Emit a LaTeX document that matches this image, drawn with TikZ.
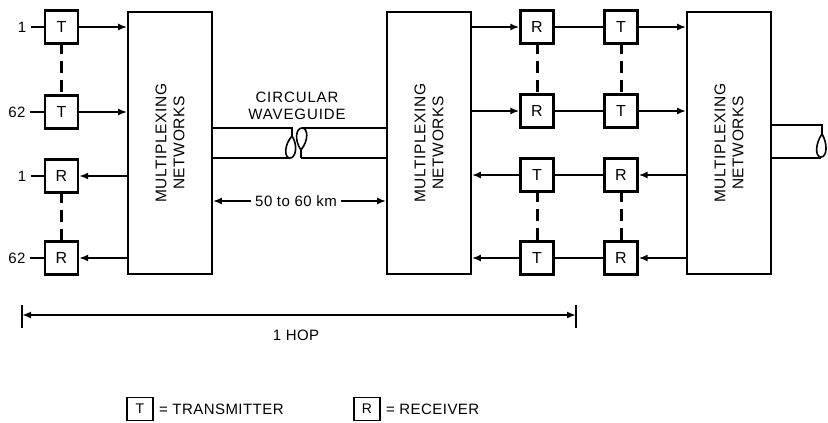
\documentclass[tikz,border=0pt]{standalone}
\usepackage{fontspec}
\setmainfont{Liberation Sans}
\usetikzlibrary{arrows.meta}
\begin{document}
\begin{tikzpicture}[x=1pt,y=-1pt,line width=2.1pt,
  box/.style={draw, line width=2.3pt, minimum width=33pt, minimum height=33pt, inner sep=0pt, font=\fontsize{16}{18}\selectfont},
  lbox/.style={draw, line width=1.8pt, minimum width=26pt, minimum height=23pt, inner sep=0pt, font=\fontsize{14}{16}\selectfont},
  mux/.style={draw, line width=1.8pt, minimum width=84pt, minimum height=262pt, inner sep=0pt},
  muxtxt/.style={rotate=90, align=center, font=\fontsize{15.5}{18}\selectfont\addfontfeatures{LetterSpace=4}},
  sig/.style={-{Latex[length=9pt,width=7pt]}},
  hop/.style={{Latex[length=9pt,width=7pt]}-{Latex[length=9pt,width=7pt]}},
  dsh/.style={dash pattern=on 12pt off 7pt, dash phase=3pt, line width=3pt},
  lbl/.style={font=\fontsize{15}{17}\selectfont\addfontfeatures{LetterSpace=3}},
  wg/.style={line width=1.6pt}]
\useasboundingbox (0,0) rectangle (828,423);

% ---- left terminal ----
\node[box] (t1) at (61.5,27) {T};
\node[box] (t62) at (61.5,112) {T};
\node[box] (r1) at (61.5,176) {R};
\node[box] (r62) at (61.5,258) {R};
\node[lbl] (n1) at (22,27) {1};
\node[lbl] (n62) at (17,112) {62};
\node[lbl] (n1r) at (22,176) {1};
\node[lbl] (n62r) at (17,258) {62};
\draw (n1) -- (t1.west);
\draw (n62) -- (t62.west);
\draw (n1r) -- (r1.west);
\draw (n62r) -- (r62.west);
\draw[dsh] (t1.south) -- (t62.north);
\draw[dsh] (r1.south) -- (r62.north);

\node[mux] (m1) at (170,143) {};
\node[muxtxt] at (m1.center) {MULTIPLEXING\\NETWORKS};
\draw[sig] (t1.east) -- (t1.east -| m1.west);
\draw[sig] (t62.east) -- (t62.east -| m1.west);
\draw[sig] (r1.east -| m1.west) -- (r1.east);
\draw[sig] (r62.east -| m1.west) -- (r62.east);

% ---- repeater ----
\node[mux] (m2) at (429,143) {};
\node[muxtxt] at (m2.center) {MULTIPLEXING\\NETWORKS};
\node[box] (mr1) at (537,27) {R};
\node[box] (mr62) at (537,111) {R};
\node[box] (mt1) at (537,175) {T};
\node[box] (mt62) at (537,258) {T};
\node[box] (rt1) at (621,27) {T};
\node[box] (rt62) at (621,111) {T};
\node[box] (rr1) at (621,175) {R};
\node[box] (rr62) at (621,258) {R};
\draw[dsh] (mr1.south) -- (mr62.north);
\draw[dsh] (mt1.south) -- (mt62.north);
\draw[dsh] (rt1.south) -- (rt62.north);
\draw[dsh] (rr1.south) -- (rr62.north);

\node[mux] (m3) at (729,143) {};
\node[muxtxt] at (m3.center) {MULTIPLEXING\\NETWORKS};

\draw[sig] (mr1.west -| m2.east) -- (mr1.west);
\draw[sig] (mr62.west -| m2.east) -- (mr62.west);
\draw[sig] (mt1.west) -- (mt1.west -| m2.east);
\draw[sig] (mt62.west) -- (mt62.west -| m2.east);
\draw (mr1.east) -- (rt1.west);
\draw (mr62.east) -- (rt62.west);
\draw (rr1.west) -- (mt1.east);
\draw (rr62.west) -- (mt62.east);
\draw[sig] (rt1.east) -- (rt1.east -| m3.west);
\draw[sig] (rt62.east) -- (rt62.east -| m3.west);
\draw[sig] (rr1.east -| m3.west) -- (rr1.east);
\draw[sig] (rr62.east -| m3.west) -- (rr62.east);

% ---- circular waveguide ----
\node[lbl, align=center, font=\fontsize{15}{16.5}\selectfont\addfontfeatures{LetterSpace=6}] (wgl) at (297,106) {CIRCULAR\\WAVEGUIDE};
\draw[wg] (212,128) -- (292,128) -- (292,136)
  .. controls (284,145) and (284,158) .. (290,158)
  .. controls (296,158) and (298,145) .. (292,136);
\draw[wg] (212,158) -- (290,158);
\draw[wg] (301,158) -- (301,150)
  .. controls (294,140) and (296,128) .. (302,128)
  .. controls (308,128) and (309,140) .. (301,150);
\draw[wg] (302,128) -- (387,128);
\draw[wg] (301,158) -- (387,158);

% ---- right stub ----
\draw[wg] (771,125) -- (822,125) -- (822,134)
  .. controls (815,144) and (815,157) .. (821,157)
  .. controls (827,157) and (828,144) .. (822,134);
\draw[wg] (771,158) -- (821,158);

% ---- distance ----
\node[lbl] (km) at (296,201) {50 to 60 km};
\draw[sig] (km.west) -- (km.west -| m1.east);
\draw[sig] (km.east) -- (km.east -| m2.west);

% ---- hop ----
\coordinate (hl) at (22,315);
\coordinate (hr) at (576,315);
\draw[hop, line width=2.4pt] (hl) -- (hr);
\draw[line width=1.4pt] (22,305) -- (22,328);
\draw[line width=1.4pt] (576,305) -- (576,328);
\node[lbl] (hoptxt) at (296,335) {1 HOP};

% ---- legend ----
\node[lbox] (lt) at (140,409) {T};
\node[lbl, anchor=west, inner sep=0pt] (ltx) at (158,409) {= TRANSMITTER};
\node[lbox] (lr) at (367,409) {R};
\node[lbl, anchor=west, inner sep=0pt] (lrx) at (385,409) {= RECEIVER};
\end{tikzpicture}
\end{document}
